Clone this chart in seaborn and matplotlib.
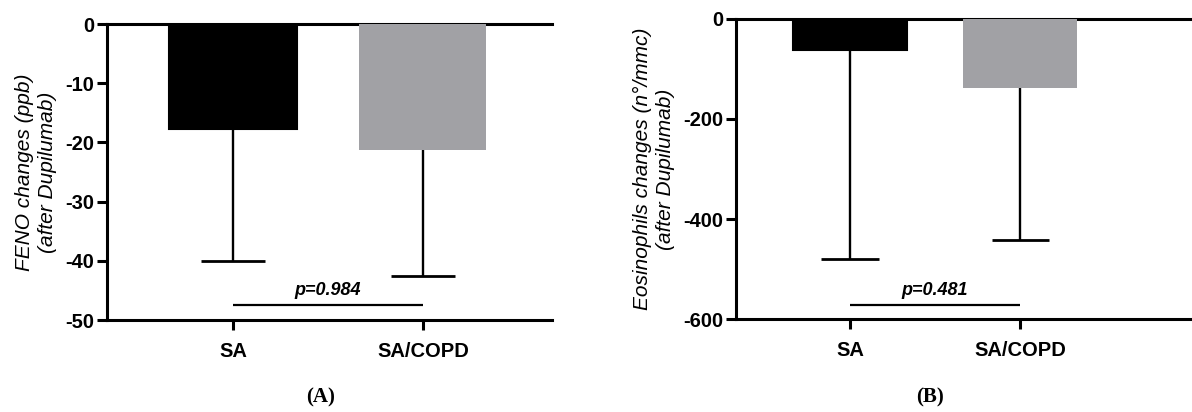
import matplotlib
matplotlib.use("Agg")
import matplotlib.pyplot as plt
import seaborn as sns
import pandas as pd

sns.set_theme(style="white")
plt.rcParams['font.family'] = ['Liberation Sans', 'DejaVu Sans']
plt.rcParams['text.color'] = 'black'
plt.rcParams['axes.labelcolor'] = 'black'
plt.rcParams['xtick.color'] = 'black'
plt.rcParams['ytick.color'] = 'black'

groups = ["SA", "SA/COPD"]
colors = ["#000000", "#a1a1a5"]

feno_mean = [-17.8, -21.2]
feno_sd = [22.2, 21.4]
feno_p_y = -47.5
feno_p_text = "p=0.984"

eos_mean = [-62, -138]
eos_sd = [418, 304]
eos_p_y = -571
eos_p_text = "p=0.481"

fig = plt.figure(figsize=(11.92, 4.12), dpi=100)
axA = fig.add_axes([0.0898, 0.2233, 0.4631 - 0.0898, 0.9417 - 0.2233])
axB = fig.add_axes([0.6174, 0.2257, 1.0 - 0.6174, 0.9539 - 0.2257])


def panel(ax, means, sds, ylim, yticks, ylabel, p_y, p_text, xlim, cap_half, letter, letter_x):
    df = pd.DataFrame({"group": groups, "value": means})
    sns.barplot(data=df, x="group", y="value", hue="group", palette=colors,
                legend=False, width=0.67, errorbar=None, ax=ax, zorder=3,
                edgecolor=None, linewidth=0)
    ax.patches[0].set_edgecolor("black")
    ax.patches[0].set_linewidth(1.5)
    lows = [m - s for m, s in zip(means, sds)]
    xs = list(range(len(groups)))
    ax.vlines(xs, lows, means, color="black", lw=1.7, zorder=2)
    ax.hlines(lows, [x - cap_half for x in xs], [x + cap_half for x in xs],
              color="black", lw=2.0, zorder=2)
    ax.hlines([p_y], [0], [1], color="black", lw=1.6)
    ax.text(0.5, p_y + (ylim[1] - ylim[0]) * 0.02, p_text, ha="center", va="bottom",
            fontsize=13, fontweight="bold", fontstyle="italic", color="black")
    ax.set_ylim(*ylim)
    ax.set_xlim(*xlim)
    ax.set_yticks(yticks)
    ax.set_yticklabels([str(t) for t in yticks])
    ax.set_xlabel("")
    ax.set_ylabel(ylabel, fontsize=15, fontstyle="italic", linespacing=1.25,
                  labelpad=6, color="black")
    for s in ["left", "bottom", "top"]:
        ax.spines[s].set_visible(True)
        ax.spines[s].set_linewidth(2.2)
        ax.spines[s].set_color("black")
    ax.spines["right"].set_visible(False)
    ax.tick_params(axis="both", direction="out", length=7, width=2.2, color="black",
                   labelcolor="black", labelsize=14.5, pad=2, left=True, bottom=True)
    for lab in ax.get_xticklabels() + ax.get_yticklabels():
        lab.set_fontweight("bold")
    ax.tick_params(axis="x", pad=9)
    ax.set_facecolor("white")
    ax.grid(False)
    fig.text(letter_x, 0.012, letter, ha="center", va="bottom", fontsize=15,
             fontweight="bold", color="black",
             family=["Liberation Serif", "DejaVu Serif"])


panel(axA, feno_mean, feno_sd, (-50, 0), [0, -10, -20, -30, -40, -50],
      "FENO changes (ppb)\n(after Dupilumab)", feno_p_y, feno_p_text,
      (-0.663, 1.68), 0.168, "(A)", 321 / 1192)
panel(axB, eos_mean, eos_sd, (-600, 0), [0, -200, -400, -600],
      "Eosinophils changes (n°/mmc)\n(after Dupilumab)", eos_p_y, eos_p_text,
      (-0.67, 2.01), 0.168, "(B)", 930 / 1192)

fig.savefig("out.png", dpi=100, facecolor="white")
